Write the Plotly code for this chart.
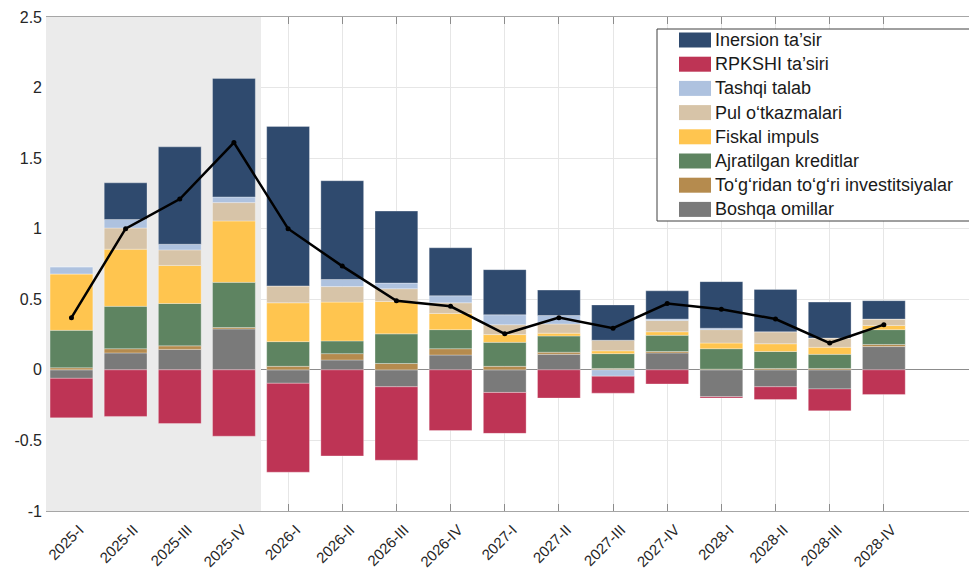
import plotly.graph_objects as go

quarters = ["2025-I", "2025-II", "2025-III", "2025-IV",
            "2026-I", "2026-II", "2026-III", "2026-IV",
            "2027-I", "2027-II", "2027-III", "2027-IV",
            "2028-I", "2028-II", "2028-III", "2028-IV"]
n_actual = 4  # shaded (actual) quarters

inersion = [0.0, 0.26, 0.69, 0.84, 1.13, 0.70, 0.51, 0.34, 0.32, 0.18, 0.25, 0.20, 0.33, 0.30, 0.255, 0.13]
rpkshi = [-0.28, -0.33, -0.38, -0.47, -0.63, -0.61, -0.52, -0.43, -0.29, -0.20, -0.12, -0.10, -0.01, -0.09, -0.155, -0.175]
tashqi = [0.05, 0.06, 0.04, 0.04, 0.0, 0.05, 0.04, 0.05, 0.07, 0.06, -0.045, 0.01, 0.01, 0.0, 0.0, 0.0]
pul = [0.0, 0.15, 0.11, 0.13, 0.12, 0.11, 0.09, 0.075, 0.07, 0.065, 0.075, 0.08, 0.095, 0.085, 0.065, 0.045]
fiskal = [0.40, 0.405, 0.27, 0.435, 0.275, 0.275, 0.23, 0.115, 0.055, 0.02, 0.02, 0.025, 0.04, 0.055, 0.05, 0.03]
ajratilgan = [0.265, 0.30, 0.30, 0.32, 0.175, 0.09, 0.21, 0.135, 0.17, 0.115, 0.105, 0.115, 0.145, 0.12, 0.10, 0.105]
togridan = [0.015, 0.03, 0.025, 0.01, 0.025, 0.045, 0.045, 0.045, 0.025, 0.015, 0.01, 0.01, 0.005, 0.01, 0.01, 0.015]
boshqa = [-0.06, 0.12, 0.145, 0.29, -0.095, 0.07, -0.12, 0.105, -0.16, 0.11, 0.0, 0.12, -0.19, -0.12, -0.135, 0.165]
total = [0.37, 1.0, 1.21, 1.61, 1.0, 0.735, 0.49, 0.45, 0.255, 0.37, 0.295, 0.47, 0.43, 0.36, 0.19, 0.32]

y_ticks = [-1, -0.5, 0, 0.5, 1, 1.5, 2, 2.5]
y_ticktext = ["-1", "-0.5", "0", "0.5", "1", "1.5", "2", "2.5"]

# stacking order, bottom up
series = [
    ("Boshqa omillar", "#7A7A7A", boshqa),
    ("To‘g‘ridan to‘g‘ri investitsiyalar", "#B58B4E", togridan),
    ("Ajratilgan kreditlar", "#5E8461", ajratilgan),
    ("Fiskal impuls", "#FFC54F", fiskal),
    ("Pul o‘tkazmalari", "#D7C4A8", pul),
    ("Tashqi talab", "#AEC2DF", tashqi),
    ("RPKSHI ta’siri", "#BE3455", rpkshi),
    ("Inersion ta’sir", "#2F4A6E", inersion),
]

# page has an 8px body margin, so the figure is shrunk and shifted to fit
OFF = 8
W, H = 977 - OFF, 571 - OFF
L, R, T, B = 46 - OFF, 0, 17 - OFF, 60
pw, ph = W - L - R, H - T - B


# plot-area pixel (window coords) -> paper coords
def px(x):
    return (x - 46) / pw


def py(y):
    return (511 - y) / ph


x_idx = list(range(len(quarters)))
x_range = [-0.47, 16.72]
y_range = [-1, 2.5]

fig = go.Figure()

# grey band for actual quarters, drawn as a trace so it hides grid and ticks
fig.add_trace(go.Bar(x=[(n_actual - 1) / 2], y=[y_range[1] - y_range[0]], base=[y_range[0]],
                     width=[n_actual], marker_color="#EBEBEB", marker_line_width=0,
                     showlegend=False, hoverinfo="skip", xaxis="x", yaxis="y"))

for name, color, vals in series:
    fig.add_trace(go.Bar(x=x_idx, y=vals, name=name, marker_color=color,
                         marker_line=dict(color="rgba(255,255,255,0.5)", width=0.6),
                         showlegend=False, xaxis="x2", yaxis="y2"))

fig.add_trace(go.Scatter(x=x_idx, y=total, mode="lines+markers",
                         line=dict(color="black", width=2.5), marker=dict(size=5, color="black"),
                         showlegend=False, xaxis="x2", yaxis="y2"))

fig.update_layout(
    width=W, height=H,
    margin=dict(l=L, r=R, t=T, b=B),
    paper_bgcolor="white", plot_bgcolor="white",
    barmode="relative", bargap=0.21,
    font=dict(family="Arial, Liberation Sans, sans-serif", size=16, color="#262626"),
    showlegend=False,
    xaxis=dict(range=x_range, tickmode="array", tickvals=x_idx, ticktext=quarters,
               tickangle=-45, tickfont=dict(size=15), showgrid=True, gridcolor="#E6E6E6",
               ticks="inside", ticklen=7, tickcolor="#8C8C8C", showline=True,
               linecolor="#A6A6A6", linewidth=1.3, mirror="ticks", zeroline=False,
               ticklabelshift=8, ticklabelstandoff=3,
               layer="below traces", automargin=False),
    yaxis=dict(range=y_range, tickmode="array", tickvals=y_ticks, ticktext=y_ticktext,
               tickfont=dict(size=16), showgrid=True, gridcolor="#E6E6E6",
               zeroline=True, zerolinecolor="#8C8C8C", zerolinewidth=1.2,
               ticks="", ticklabelstandoff=3, showline=False, layer="below traces",
               automargin=False),
    xaxis2=dict(range=x_range, overlaying="x", anchor="y2", visible=False),
    yaxis2=dict(range=y_range, overlaying="y", anchor="x2", visible=False),
)

# legend box drawn by hand to match the wide swatches
fig.add_shape(type="rect", xref="paper", yref="paper",
              x0=px(657), x1=px(990), y0=py(221), y1=py(29),
              line=dict(color="#404040", width=1), fillcolor="white")
for i, (name, color, vals) in enumerate(reversed(series)):
    c = 40 + 24.2 * i
    fig.add_shape(type="rect", xref="paper", yref="paper",
                  x0=px(679), x1=px(711), y0=py(c + 7.5), y1=py(c - 7.5),
                  line=dict(width=0), fillcolor=color)
    fig.add_annotation(x=px(713), y=py(c), xref="paper", yref="paper", text=name,
                       showarrow=False, xanchor="left", yanchor="middle",
                       font=dict(size=18, color="#1A1A1A"))

fig.write_html("out.html")
